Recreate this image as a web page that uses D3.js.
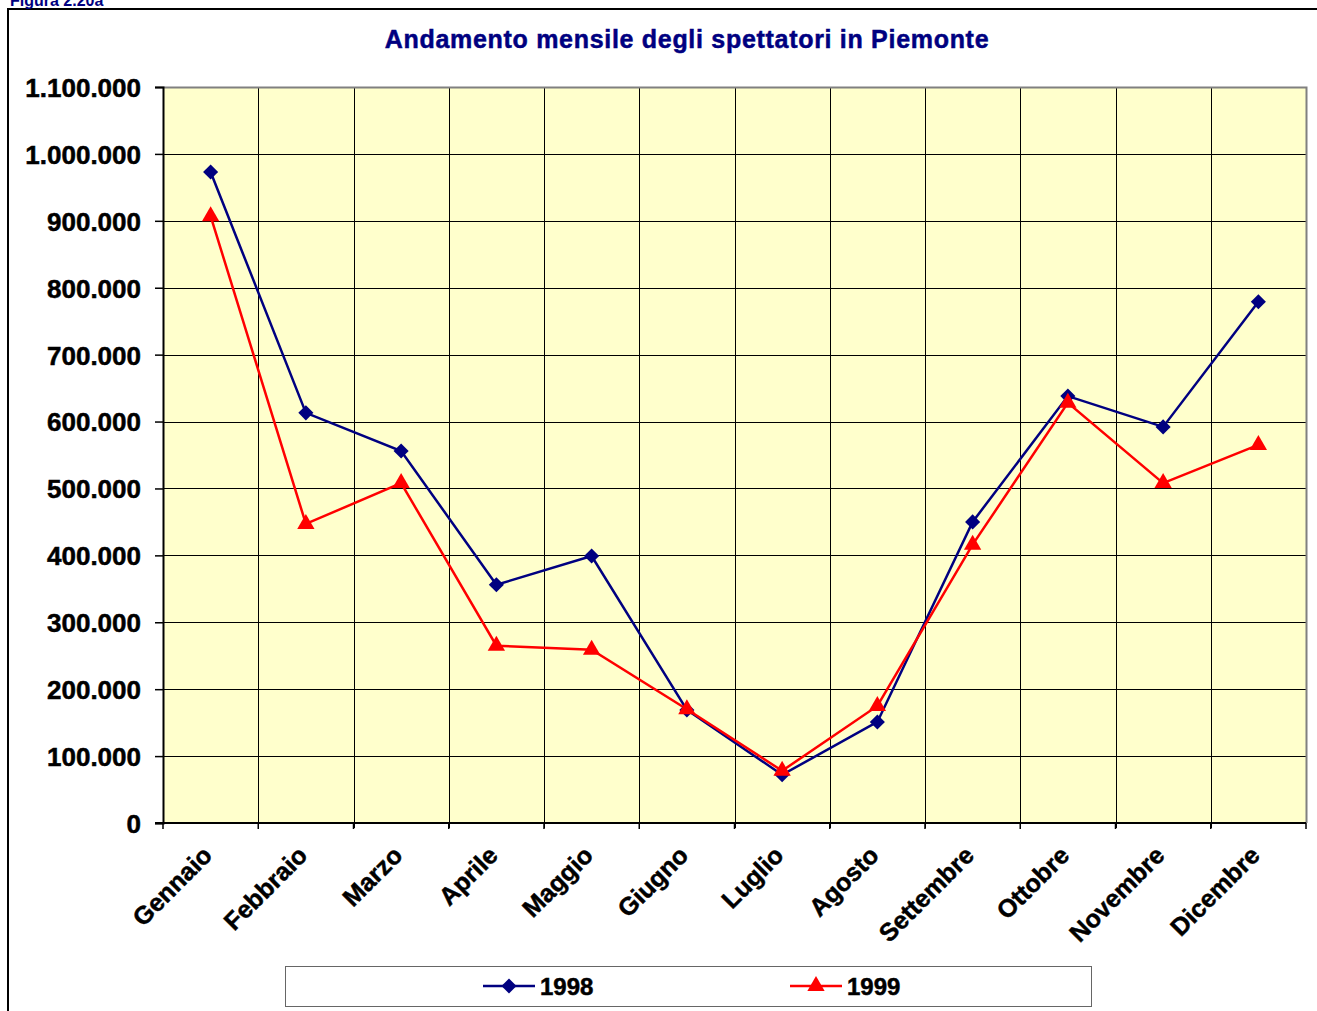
<!DOCTYPE html>
<html>
<head>
<meta charset="utf-8">
<script src="https://cdn.jsdelivr.net/npm/d3@7.9.0/dist/d3.min.js"></script>
<style>
  body { margin: 0; background: #fff; }
  svg { display: block; }
  svg text { font-family: "Liberation Sans", Arial, sans-serif; font-weight: bold; }
</style>
</head>
<body>
<svg id="chart" width="1317" height="1011"></svg>
<script>
const months = ["Gennaio", "Febbraio", "Marzo", "Aprile", "Maggio", "Giugno",
  "Luglio", "Agosto", "Settembre", "Ottobre", "Novembre", "Dicembre"];
const series1998 = [973000, 613000, 556000, 356000, 399000, 169000,
  72000, 151000, 450000, 638000, 592000, 779000];
const series1999 = [907000, 447000, 508000, 265000, 259000, 170000,
  78000, 175000, 416000, 628000, 508000, 565000];
const yTicks = [0, 100000, 200000, 300000, 400000, 500000, 600000,
  700000, 800000, 900000, 1000000, 1100000];

const svg = d3.select("#chart");
const pLeft = 163, pRight = 1306, pTop = 87, pBottom = 823;

// frame
svg.append("path").attr("d", "M8,1011 V9 H1317")
  .attr("fill", "none").attr("stroke", "#000").attr("stroke-width", 2);
svg.append("text").attr("x", 10).attr("y", 6)
  .attr("fill", "#000080").attr("font-size", 16).text("Figura 2.20a");

svg.append("text").attr("x", 687).attr("y", 48).attr("text-anchor", "middle")
  .attr("fill", "#000080").attr("stroke", "#000080").attr("stroke-width", 0.5)
  .attr("font-size", 25).attr("letter-spacing", 0.7)
  .text("Andamento mensile degli spettatori in Piemonte");

const x = d3.scaleBand().domain(months).range([pLeft, pRight]);
const y = d3.scaleLinear().domain([0, 1100000]).range([pBottom, pTop]);

svg.append("rect").attr("x", pLeft).attr("y", pTop)
  .attr("width", pRight - pLeft).attr("height", pBottom - pTop)
  .attr("fill", "#FFFFCC");

// grid
svg.append("g").selectAll("line").data(yTicks.slice(1, -1)).join("line")
  .attr("x1", pLeft).attr("x2", pRight)
  .attr("y1", d => Math.round(y(d)) + 0.5).attr("y2", d => Math.round(y(d)) + 0.5)
  .attr("stroke", "#000").attr("stroke-width", 1);
svg.append("g").selectAll("line").data(months.slice(1)).join("line")
  .attr("x1", d => Math.round(x(d)) + 0.5).attr("x2", d => Math.round(x(d)) + 0.5)
  .attr("y1", pTop).attr("y2", pBottom + 5)
  .attr("stroke", "#000").attr("stroke-width", 1);

// plot border
svg.append("path").attr("d", `M${pLeft},${pTop + 0.5} H${pRight + 0.5} V${pBottom}`)
  .attr("fill", "none").attr("stroke", "#808080").attr("stroke-width", 2);

// axes
const yAxis = d3.axisLeft(y).tickValues(yTicks).tickSize(8).tickPadding(14)
  .tickFormat(d => d3.format(",")(d).replace(/,/g, "."));
const gy = svg.append("g").attr("transform", `translate(${pLeft},0)`).call(yAxis);
gy.attr("font-family", null).attr("font-size", null);
gy.select(".domain").attr("stroke", "#000").attr("stroke-width", 2);
gy.selectAll(".tick line").attr("stroke", "#000").attr("stroke-width", 1.5);
gy.selectAll("text").attr("font-size", 26).attr("fill", "#000")
  .attr("stroke", "#000").attr("stroke-width", 0.5).attr("dy", "0.36em");

const gx = svg.append("g").attr("transform", `translate(0,${pBottom})`);
gx.append("line").attr("x1", pLeft - 8).attr("x2", pRight).attr("y1", 0).attr("y2", 0)
  .attr("stroke", "#000").attr("stroke-width", 2);
gx.selectAll(".tk").data(months.concat(["end"])).join("line")
  .attr("x1", (d, i) => i < 12 ? x(d) : pRight).attr("x2", (d, i) => i < 12 ? x(d) : pRight)
  .attr("y1", 0).attr("y2", 6).attr("stroke", "#000").attr("stroke-width", 1.5);
gx.selectAll(".lbl").data(months).join("text")
  .attr("transform", d => `translate(${x(d) + x.bandwidth() / 2 + 3},${34}) rotate(-45)`)
  .attr("text-anchor", "end").attr("font-size", 25).attr("fill", "#000")
  .attr("stroke", "#000").attr("stroke-width", 0.5)
  .text(d => d);

// lines
const cx = d => x(d) + x.bandwidth() / 2;
const line = d3.line().x((d, i) => cx(months[i])).y(d => y(d));
svg.append("path").datum(series1998).attr("d", line)
  .attr("fill", "none").attr("stroke", "#000080").attr("stroke-width", 2.5);
svg.append("path").datum(series1999).attr("d", line)
  .attr("fill", "none").attr("stroke", "#FF0000").attr("stroke-width", 2.5);

const diamond = d3.symbol().type(d3.symbolDiamond2).size(145);
const triangle = d3.symbol().type(d3.symbolTriangle).size(130);
svg.append("g").selectAll("path").data(series1998).join("path")
  .attr("d", diamond).attr("fill", "#000080")
  .attr("transform", (d, i) => `translate(${cx(months[i])},${y(d)})`);
svg.append("g").selectAll("path").data(series1999).join("path")
  .attr("d", triangle).attr("fill", "#FF0000")
  .attr("transform", (d, i) => `translate(${cx(months[i])},${y(d)})`);

// legend
const lg = svg.append("g");
lg.append("rect").attr("x", 285.5).attr("y", 966.5).attr("width", 806).attr("height", 40)
  .attr("fill", "#fff").attr("stroke", "#666").attr("stroke-width", 1);
const items = [
  { name: "1998", color: "#000080", sym: diamond, x0: 483 },
  { name: "1999", color: "#FF0000", sym: triangle, x0: 790 }
];
items.forEach(it => {
  lg.append("line").attr("x1", it.x0).attr("x2", it.x0 + 52).attr("y1", 986).attr("y2", 986)
    .attr("stroke", it.color).attr("stroke-width", 2.5);
  lg.append("path").attr("d", it.sym).attr("fill", it.color)
    .attr("transform", `translate(${it.x0 + 26},986)`);
  lg.append("text").attr("x", it.x0 + 57).attr("y", 995).attr("font-size", 24)
    .attr("fill", "#000").attr("stroke", "#000").attr("stroke-width", 0.5).text(it.name);
});
</script>
</body>
</html>
